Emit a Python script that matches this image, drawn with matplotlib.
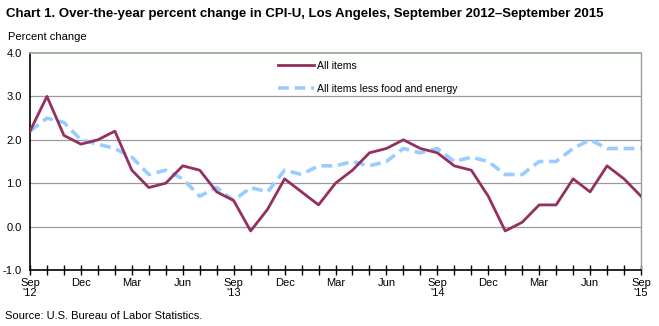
import matplotlib
matplotlib.use("Agg")
import matplotlib.pyplot as plt
import numpy as np

plt.rcParams['font.family'] = ['Liberation Sans', 'DejaVu Sans']

# Monthly over-the-year percent change, Sep 2012 - Sep 2015
all_items = [2.2, 3.0, 2.1, 1.9, 2.0, 2.2, 1.3, 0.9, 1.0, 1.4, 1.3, 0.8,
             0.6, -0.1, 0.4, 1.1, 0.8, 0.5, 1.0, 1.3, 1.7, 1.8, 2.0, 1.8,
             1.7, 1.4, 1.3, 0.7, -0.1, 0.1, 0.5, 0.5, 1.1, 0.8, 1.4, 1.1,
             0.7]
core_items = [2.2, 2.5, 2.4, 2.0, 1.9, 1.8, 1.6, 1.2, 1.3, 1.1, 0.7, 0.9,
              0.6, 0.9, 0.8, 1.3, 1.2, 1.4, 1.4, 1.5, 1.4, 1.5, 1.8, 1.7,
              1.8, 1.5, 1.6, 1.5, 1.2, 1.2, 1.5, 1.5, 1.8, 2.0, 1.8, 1.8,
              1.8]
tick_labels = ["Sep\n'12", "Dec", "Mar", "Jun", "Sep\n'13", "Dec", "Mar",
               "Jun", "Sep\n'14", "Dec", "Mar", "Jun", "Sep\n'15"]
y_ticks = [-1.0, 0.0, 1.0, 2.0, 3.0, 4.0]

x = np.arange(len(all_items))

fig = plt.figure(figsize=(6.59, 3.26), dpi=100)
ax = fig.add_axes([30 / 659, 1 - 270 / 326, 611 / 659, 217 / 326])

grid_color = '#9a9a9a'
for yv in y_ticks[1:-1]:
    ax.axhline(yv, color=grid_color, lw=0.9, zorder=1)

ax.plot(x, all_items, color='#94305f', lw=2.0, zorder=3, label='All items')
ax.plot(x, core_items, color='#99ccff', lw=2.6, ls=(0, (3, 1.6)), zorder=2,
        label='All items less food and energy')

ax.set_xlim(0, len(all_items) - 1)
ax.set_ylim(-1.0, 4.0)
ax.set_yticks(y_ticks)
ax.set_yticklabels([f"{v:.1f}" for v in y_ticks], fontsize=8)
ax.set_xticks(x, minor=True)
ax.set_xticks(x[::3])
ax.set_xticklabels(tick_labels, fontsize=8, linespacing=1.0)
ax.tick_params(axis='y', length=0, pad=6)
ax.tick_params(axis='x', which='both', direction='inout', length=7, width=1,
               pad=2, color='black')

for side in ('left', 'bottom'):
    ax.spines[side].set_color('black')
    ax.spines[side].set_linewidth(1.2)
ax.spines['top'].set_color('#8fa58a')
ax.spines['top'].set_linewidth(1.2)
ax.spines['right'].set_color('#9a9a9a')
ax.spines['right'].set_linestyle((0, (1, 1)))
ax.spines['right'].set_linewidth(1.0)

leg = ax.legend(loc='upper left', bbox_to_anchor=(0.393, 1.0), frameon=False,
                fontsize=7.6, handlelength=3.4, handletextpad=0.3,
                labelspacing=1.2, borderaxespad=0.35)

fig.text(6 / 659, 1 - 14 / 326,
         "Chart 1. Over-the-year percent change in CPI-U, Los Angeles, September 2012\u2013September 2015",
         fontsize=9.5, fontweight='bold', va='center', ha='left')
fig.text(8 / 659, 1 - 37 / 326, "Percent change", fontsize=8, va='center', ha='left')
fig.text(5 / 659, 1 - 316 / 326, "Source: U.S. Bureau of Labor Statistics.",
         fontsize=8, va='center', ha='left')

fig.savefig("out.png", dpi=100)
